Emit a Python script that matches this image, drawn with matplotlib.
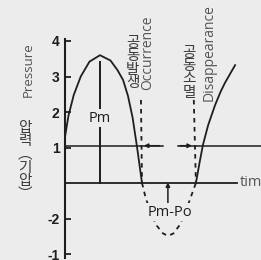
import matplotlib
matplotlib.use("Agg")
import matplotlib.pyplot as plt

# ---- data (schematic values) ----
ytick_pos = [4, 3, 2, 1, -1, -2]
ytick_labels = ["4", "3", "2", "1", "-2", "-1"]

# solid pressure curve, falling part and rising part (time, pressure)
t_fall = [0.0, 0.1, 0.25, 0.45, 0.7, 1.0, 1.3, 1.5, 1.66, 1.8, 1.93, 2.06, 2.2]
p_fall = [1.3, 1.9, 2.48, 3.0, 3.42, 3.6, 3.45, 3.18, 2.9, 2.45, 1.85, 1.0, 0.0]
t_rise = [3.74, 3.84, 3.94, 4.09, 4.29, 4.45, 4.57, 4.72, 4.86]
p_rise = [0.0, 0.55, 1.07, 1.63, 2.2, 2.58, 2.82, 3.08, 3.32]
# dashed part below the zero line
t_neg = [2.2, 2.3, 2.45, 2.62, 2.8, 2.94, 3.1, 3.28, 3.45, 3.6, 3.74]
p_neg = [0.0, -0.4, -0.85, -1.2, -1.42, -1.49, -1.42, -1.18, -0.8, -0.38, 0.0]

t_occ = 2.2      # cavitation occurrence
t_dis = 3.68     # cavitation disappearance
t_peak = 1.0
p_peak_line = 3.4
p_vapor = 1.05   # level of the "1" line
t_pm_po = 2.94

BG = "#ececec"
INK = "#1e1e1e"
GRAY = "#555555"
KGRAY = "#3a3a3a"
KR = ["Noto Sans CJK KR", "DejaVu Sans"]
LAT = ["Open Sans", "DejaVu Sans"]

fig = plt.figure(figsize=(2.61, 2.60), dpi=100, facecolor=BG)
ax = fig.add_axes([0, 0, 1, 1], facecolor=BG)
ax.set_xlim(-65 / 35, 196 / 35)
ax.set_ylim(-77 / 35.5, 183 / 35.5)

for s in ["top", "right", "bottom"]:
    ax.spines[s].set_visible(False)
ax.spines["left"].set_position(("data", 0))
ax.spines["left"].set_bounds(-2.1, 4.05)
ax.spines["left"].set_linewidth(1.5)
ax.spines["left"].set_color(INK)
ax.set_xticks([])
ax.set_yticks(ytick_pos)
ax.set_yticklabels(ytick_labels, fontsize=10, fontweight="bold", color=INK,
                   family=["Liberation Sans"])
ax.tick_params(axis="y", direction="in", length=4, width=1.3, color=INK, pad=4)

# horizontal lines
ax.plot([0, 4.91], [0, 0], color=INK, lw=1.3)
ax.plot([0, 2.8], [p_vapor, p_vapor], color=INK, lw=1.1)
ax.plot([3.23, 5.6], [p_vapor, p_vapor], color=INK, lw=1.1)
ax.annotate("", xy=(t_occ + 0.05, p_vapor), xytext=(t_occ + 0.5, p_vapor),
            arrowprops=dict(arrowstyle="-|>", color=INK, lw=1.1,
                            mutation_scale=6, shrinkA=0, shrinkB=0))
ax.annotate("", xy=(t_dis - 0.05, p_vapor), xytext=(t_dis - 0.4, p_vapor),
            arrowprops=dict(arrowstyle="-|>", color=INK, lw=1.1,
                            mutation_scale=6, shrinkA=0, shrinkB=0))

# curves
ax.plot(t_fall, p_fall, color=INK, lw=1.3, solid_joinstyle="round")
ax.plot(t_rise, p_rise, color=INK, lw=1.3, solid_joinstyle="round")
ax.plot(t_neg, p_neg, color=INK, lw=1.3, ls=(0, (2.5, 2.5)))

# dashed vertical markers
ax.plot([t_occ - 0.03, t_occ], [2.34, 0], color=INK, lw=1.3, ls=(0, (2.5, 2.5)))
ax.plot([t_dis, t_dis + 0.06], [2.34, 0], color=INK, lw=1.3, ls=(0, (2.5, 2.5)))

# peak line
ax.plot([t_peak, t_peak], [p_peak_line, 0], color=INK, lw=1.4)
ax.text(t_peak, 1.82, "Pm", fontsize=10.5, color=INK, ha="center", va="center",
        family=LAT, bbox=dict(fc=BG, ec="none", pad=1))

# Pm-Po arrow and label
ax.annotate("", xy=(t_pm_po, 0.02), xytext=(t_pm_po, -0.56),
            arrowprops=dict(arrowstyle="-|>", color=INK, lw=1.1,
                            mutation_scale=6, shrinkA=0, shrinkB=0))
ax.text(3.0, -0.82, "Pm-Po", fontsize=10.5, color=INK, ha="center", va="center",
        family=LAT, bbox=dict(fc=BG, ec="none", pad=1))

ax.text(5.0, 0, "time", fontsize=10.5, color=GRAY, ha="left", va="center", family=LAT)

# y-axis labels
ax.text(-1.06, 3.18, "Pressure", rotation=90, fontsize=9.5, color=GRAY,
        ha="center", va="center", family=LAT)
ax.text(-1.14, 0.62, "\n".join(["압", "력", "︵", "기", "압", "︶"]), fontsize=10.5,
        color=KGRAY, ha="center", va="center", family=KR, linespacing=0.92)

# event labels
ax.text(1.94, 2.62, "\n".join("공동발생"), fontsize=10.5, color=KGRAY,
        ha="center", va="bottom", family=KR, linespacing=0.95)
ax.text(2.37, 2.62, "Occurrence", rotation=90, fontsize=10, color=GRAY,
        ha="center", va="bottom", family=LAT)
ax.text(3.54, 2.34, "\n".join("공동소멸"), fontsize=10.5, color=KGRAY,
        ha="center", va="bottom", family=KR, linespacing=0.95)
ax.text(4.11, 2.31, "Disappearance", rotation=90, fontsize=10, color=GRAY,
        ha="center", va="bottom", family=LAT)

fig.savefig("out.png", dpi=100, facecolor=BG)
